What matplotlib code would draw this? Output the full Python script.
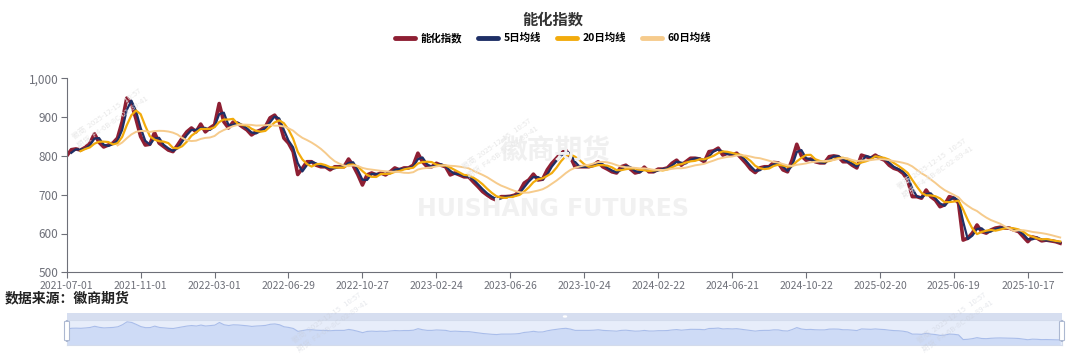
import matplotlib

matplotlib.use("Agg")
import matplotlib.pyplot as plt
import numpy as np
import pandas as pd
from matplotlib.lines import Line2D
from matplotlib.patches import FancyBboxPatch, Circle

plt.rcParams["font.family"] = ["Noto Sans CJK SC", "DejaVu Sans"]

# --- data (weekly readings of the daily index, one point every 5 trading days) ---
STEP = 5            # trading days between two readings
N_DAYS = 1078       # trading days on the category axis
TICK_EVERY = 80     # label interval on the category axis

TICK_LABELS = [
    "2021-07-01", "2021-11-01", "2022-03-01", "2022-06-29", "2022-10-27",
    "2023-02-24", "2023-06-26", "2023-10-24", "2024-02-22", "2024-06-21",
    "2024-10-22", "2025-02-20", "2025-06-19", "2025-10-17",
]

INDEX = [
    800, 816, 818, 815, 822, 832, 857, 835, 823, 828, 833, 846, 888, 949, 936, 895,
    850, 828, 830, 860, 833, 824, 815, 811, 828, 846, 862, 872, 862, 882, 862, 872,
    880, 935, 888, 872, 887, 884, 875, 867, 854, 862, 867, 875, 898, 905, 888, 846,
    833, 811, 752, 768, 785, 785, 776, 772, 772, 764, 772, 772, 772, 792, 775, 752,
    725, 751, 756, 751, 756, 751, 759, 769, 764, 769, 769, 776, 807, 785, 772, 772,
    781, 776, 772, 751, 756, 751, 746, 746, 733, 721, 708, 699, 691, 686, 695, 695,
    696, 699, 708, 730, 738, 753, 738, 740, 764, 781, 794, 807, 815, 798, 772, 772,
    772, 772, 776, 785, 772, 766, 759, 756, 772, 776, 766, 756, 759, 771, 759, 759,
    766, 766, 769, 781, 789, 776, 785, 794, 794, 792, 785, 811, 813, 820, 802, 807,
    802, 807, 794, 781, 766, 757, 769, 772, 772, 783, 782, 764, 759, 790, 830, 800,
    789, 792, 785, 782, 782, 798, 800, 798, 785, 785, 776, 769, 802, 798, 794, 802,
    794, 789, 776, 768, 764, 755, 738, 695, 695, 691, 712, 695, 686, 669, 674, 695,
    691, 679, 583, 588, 601, 622, 605, 601, 609, 614, 616, 614, 614, 609, 605, 592,
    579, 591, 588, 581, 583, 581, 579, 575,
]

SERIES_NAMES = ["能化指数", "5日均线", "20日均线", "60日均线"]
MA_DAYS = [5, 20, 60]

COLORS = ["#8E1F33", "#1E2F66", "#F2AB0C", "#F6CB8C"]
WIDTHS = [2.6, 1.6, 1.6, 1.4]
GREY = "#6E7079"
WATERMARK = "徽商  2025-12-15   10:57\n期货  F4-6B-8C-02-89-41"

W, H = 1080, 358


def px_box(left, top, right, bottom):
    """Figure-fraction rect from pixel edges (top-left origin)."""
    return [left / W, 1 - bottom / H, (right - left) / W, (bottom - top) / H]


def main():
    idx = pd.Series(INDEX, dtype=float)
    x = np.arange(len(idx)) * STEP
    # moving averages over the weekly readings (window in readings, min 2 for the 5-day line)
    mas = [idx.rolling(max(2, d // STEP)).mean() for d in MA_DAYS]

    fig = plt.figure(figsize=(W / 100, H / 100), dpi=100)

    # watermarks behind the plot
    fig.text(555 / W, 1 - 152 / H, "徽商期货", fontsize=20, color="#F0F0F0",
             ha="center", va="center", fontweight="bold", zorder=0)
    fig.text(553 / W, 1 - 209 / H, "HUISHANG FUTURES", fontsize=17, color="#F1F1F1",
             ha="center", va="center", fontweight="bold", family="DejaVu Sans", zorder=0)
    for cx, cy in ((110, 118), (500, 148), (935, 168)):
        fig.text(cx / W, 1 - cy / H, WATERMARK, fontsize=5.5, color="#E8E8E8",
                 rotation=35, ha="center", va="center", zorder=0)

    ax = fig.add_axes(px_box(66.7, 78.3, 1062, 272.3))
    ax.plot(x, idx, color=COLORS[0], lw=WIDTHS[0], zorder=2, solid_joinstyle="round")
    for k, ma in enumerate(mas, start=1):
        ax.plot(x, ma, color=COLORS[k], lw=WIDTHS[k], zorder=2 + k,
                solid_joinstyle="round")

    ax.set_xlim(0, N_DAYS - 1)
    ax.set_ylim(500, 1000)
    ax.set_yticks(range(500, 1001, 100))
    ax.set_yticklabels([f"{v:,}" for v in range(500, 1001, 100)])
    ax.set_xticks(np.arange(len(TICK_LABELS)) * TICK_EVERY)
    ax.set_xticklabels(TICK_LABELS)
    ax.tick_params(axis="y", colors=GREY, labelsize=8.5, length=4, width=0.8, pad=2)
    ax.tick_params(axis="x", colors=GREY, labelsize=7.5, length=4, width=0.8, pad=2)
    for side in ("top", "right"):
        ax.spines[side].set_visible(False)
    for side in ("left", "bottom"):
        ax.spines[side].set_color(GREY)
        ax.spines[side].set_linewidth(0.8)
    ax.patch.set_alpha(0)

    # title, legend, source
    fig.text(553 / W, 1 - 20 / H, "能化指数", fontsize=11, fontweight="bold",
             color="#333333", ha="center", va="center")
    handles = [Line2D([], [], color=c, lw=3.5, solid_capstyle="round") for c in COLORS]
    fig.legend(handles, SERIES_NAMES, loc="center", bbox_to_anchor=(553 / W, 1 - 38 / H),
               ncol=4, frameon=False, handlelength=1.9, handletextpad=0.5,
               columnspacing=1.6, prop={"weight": "bold", "size": 7.5})
    fig.text(5 / W, 1 - 298 / H, "数据来源：徽商期货", fontsize=10, fontweight="bold",
             color="#222222", ha="left", va="center")

    # data-zoom slider with the miniature series
    sl = fig.add_axes(px_box(67, 320, 1062, 345))
    sl.set_facecolor("#E7EDFA")
    span = idx.max() - idx.min()
    sl.fill_between(x, idx, idx.min() - span * 0.3, color="#CEDBF6", lw=0)
    sl.plot(x, idx, color="#A9BDEA", lw=0.8)
    sl.set_xlim(0, N_DAYS - 1)
    sl.set_ylim(idx.min() - span * 0.28, idx.max() + span * 0.1)
    sl.set_xticks([])
    sl.set_yticks([])
    for s in sl.spines.values():
        s.set_color("#D3DBEC")
        s.set_linewidth(0.8)
    top = fig.add_axes(px_box(67, 313, 1062, 320))
    top.set_facecolor("#D6DEF0")
    top.set_xticks([])
    top.set_yticks([])
    for s in top.spines.values():
        s.set_visible(False)
    fig.patches.append(Circle((565 / W, 1 - 316.5 / H), 1.5 / W, color="white",
                              transform=fig.transFigure))
    for hx in (67, 1062):
        fig.patches.append(FancyBboxPatch(
            ((hx - 2.5) / W, 1 - 341 / H), 5 / W, 20 / H,
            boxstyle="round,pad=0,rounding_size=0.003", facecolor="white",
            edgecolor="#ACB8D1", lw=0.8, transform=fig.transFigure, zorder=5))

    # faint watermarks over the slider
    for cx, cy in ((330, 322), (955, 322)):
        fig.text(cx / W, 1 - cy / H, WATERMARK, fontsize=5.5, color="#C8CCD6",
                 alpha=0.45, rotation=35, ha="center", va="center", zorder=10)

    fig.savefig("out.png", dpi=100)
    plt.close(fig)


if __name__ == "__main__":
    main()
